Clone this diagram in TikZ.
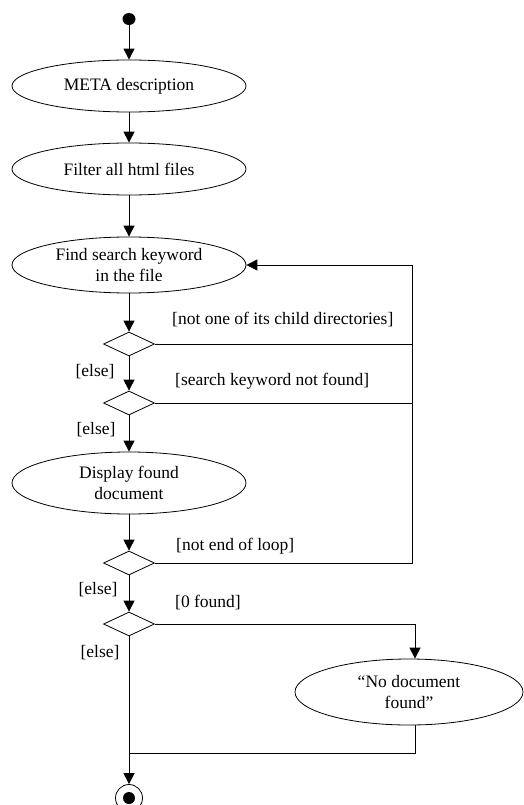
\documentclass[tikz,border=0pt]{standalone}
\usepackage{fontspec}
\setmainfont{Liberation Serif}
\usetikzlibrary{shapes.geometric,arrows.meta}
\begin{document}
\begin{tikzpicture}[x=1pt,y=-1pt,
  every node/.style={font=\fontsize{17.5}{20.5}\selectfont},
  act/.style={ellipse,draw,line width=0.8pt,minimum width=234pt,minimum height=52pt,inner sep=0pt,align=center},
  decision/.style={diamond,draw,line width=0.8pt,minimum width=51pt,minimum height=24pt,inner sep=0pt},
  flow/.style={draw,line width=1pt},
  arr/.style={flow,-{Triangle[length=11pt,width=11pt]}},
  guard/.style={inner sep=0pt}
]
\useasboundingbox (0,0) rectangle (523,805);

% activity nodes
\node[ellipse,fill,inner sep=0pt,minimum width=13pt,minimum height=12pt] (start) at (129,19) {};
\node[act] (meta) at (129,86) {META description};
\node[act] (filter) at (129,169) {Filter all html files};
\node[act,minimum height=56pt] (find) at (129,265) {Find search keyword\\in the file};
\node[decision] (d1) at (129,344) {};
\node[decision] (d2) at (129,403) {};
\node[act,minimum height=62pt] (show) at (129,483) {Display found\\document};
\node[decision] (d3) at (129,563) {};
\node[decision] (d4) at (129,624) {};
\node[act,minimum width=228pt,minimum height=66pt] (nodoc) at (409,692) {“No document\\found”};
\node[circle,draw,line width=0.8pt,minimum size=27pt,inner sep=0pt] (stop) at (129,798) {};
\node[circle,fill,minimum size=12pt,inner sep=0pt] (stopin) at (stop.center) {};

% main flow
\draw[arr] (start) -- (meta);
\draw[arr] (meta) -- (filter);
\draw[arr] (filter) -- (find);
\draw[arr] (find) -- (d1);
\draw[arr] (d1) -- (d2);
\draw[arr] (d2) -- (show);
\draw[arr] (show) -- (d3);
\draw[arr] (d3) -- (d4);
\draw[arr] (d4) -- (stop);

% loop back to the search step
\coordinate (loopx) at (412,0);
\draw[arr] (d3.east) -- (d3.east -| loopx) -- (find.east -| loopx) -- (find.east);
\draw[flow] (d1.east) -- (d1.east -| loopx);
\draw[flow] (d2.east) -- (d2.east -| loopx);

% "nothing found" branch
\coordinate (branchx) at (415,0);
\coordinate (join) at (129,753);
\draw[arr] (d4.east) -- (d4.east -| branchx) -- (branchx |- nodoc.north);
\draw[flow] (branchx |- nodoc.south) |- (join);

% guards
\node[guard,anchor=west] (g1) at (172,320) {[not one of its child directories]};
\node[guard,anchor=west] (g2) at (175,381) {[search keyword not found]};
\node[guard,anchor=west] (g3) at (176,546) {[not end of loop]};
\node[guard,anchor=west] (g4) at (175,603) {[0 found]};
\node[guard] (e1) at (95,372) {[else]};
\node[guard] (e2) at (96,430) {[else]};
\node[guard] (e3) at (98,590) {[else]};
\node[guard] (e4) at (100,653) {[else]};
\end{tikzpicture}
\end{document}
